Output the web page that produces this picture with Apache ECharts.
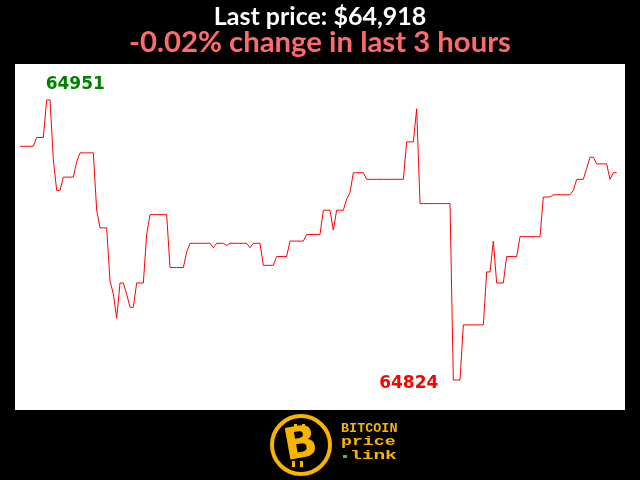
<!DOCTYPE html>
<html>
<head>
<meta charset="utf-8">
<script src="https://cdn.jsdelivr.net/npm/echarts@6/dist/echarts.min.js"></script>
<style>
html,body{margin:0;padding:0;background:#000;}
#chart{width:640px;height:480px;}
</style>
</head>
<body>
<div id="chart"></div>
<script>
// Minute-by-minute BTC price over the last 3 hours (180 minutes)
var prices = [
  64930, 64930, 64930, 64930, 64930, 64934, 64934, 64934, 64951, 64951,
  64924, 64910, 64910, 64916, 64916, 64916, 64916, 64923, 64927, 64927,
  64927, 64927, 64927, 64901, 64893, 64893, 64893, 64869, 64863, 64852,
  64868, 64868, 64863, 64857, 64857, 64868, 64868, 64868, 64890, 64899,
  64899, 64899, 64899, 64899, 64899, 64875, 64875, 64875, 64875, 64875,
  64882, 64886, 64886, 64886, 64886, 64886, 64886, 64886, 64884, 64886,
  64886, 64886, 64885, 64886, 64886, 64886, 64886, 64886, 64886, 64884,
  64886, 64886, 64886, 64876, 64876, 64876, 64876, 64880, 64880, 64880,
  64880, 64887, 64887, 64887, 64887, 64887, 64890, 64890, 64890, 64890,
  64890, 64901, 64901, 64901, 64892, 64901, 64901, 64901, 64906, 64909,
  64918, 64918, 64918, 64918, 64915, 64915, 64915, 64915, 64915, 64915,
  64915, 64915, 64915, 64915, 64915, 64915, 64932, 64932, 64932, 64947,
  64904, 64904, 64904, 64904, 64904, 64904, 64904, 64904, 64904, 64904,
  64824, 64824, 64824, 64849, 64849, 64849, 64849, 64849, 64849, 64849,
  64873, 64873, 64887, 64868, 64868, 64868, 64880, 64880, 64880, 64880,
  64889, 64889, 64889, 64889, 64889, 64889, 64889, 64907, 64907, 64907,
  64908, 64908, 64908, 64908, 64908, 64908, 64910, 64915, 64915, 64915,
  64920, 64925, 64925, 64922, 64922, 64922, 64922, 64915, 64918, 64918
];
var titleText = 'Last price: $64,918';
var subtitleText = '-0.02% change in last 3 hours';
var logoLines = ['BITCOIN', 'price', 'link'];

var seriesData = prices.map(function (p, i) { return [i, p]; });

var chart = echarts.init(document.getElementById('chart'), null, {renderer: 'canvas'});
var gold = '#f7b500';
chart.setOption({
  backgroundColor: '#000000',
  animation: false,
  title: [
    {text: titleText, left: 'center', top: -1,
     textStyle: {color: '#ffffff', fontFamily: 'Lato', fontWeight: 'bold', fontSize: 25}},
    {text: subtitleText, left: 'center', top: 23,
     textStyle: {color: '#ff6b6b', fontFamily: 'Lato', fontWeight: 'bold', fontSize: 29.3}}
  ],
  grid: {left: 15, top: 64, width: 610, height: 346, show: true, backgroundColor: '#ffffff', borderWidth: 0},
  xAxis: {type: 'value', min: -1.5, max: 181.5, show: false},
  yAxis: {type: 'value', min: 64810.4, max: 64967.3, show: false},
  series: [{
    type: 'line',
    data: seriesData,
    showSymbol: false,
    symbol: 'none',
    lineStyle: {color: '#ff0000', width: 1},
    markPoint: {
      symbol: 'circle',
      symbolSize: 0,
      data: [
        {type: 'max', label: {show: true, position: 'inside', align: 'left', verticalAlign: 'middle',
          offset: [-1, -15], color: '#008000', fontFamily: 'DejaVu Sans', fontWeight: 'bold', fontSize: 17,
          formatter: function (p) { return String(p.value); }}},
        {type: 'min', label: {show: true, position: 'inside', align: 'right', verticalAlign: 'middle',
          offset: [-15, 4], color: '#ff0000', fontFamily: 'DejaVu Sans', fontWeight: 'bold', fontSize: 17,
          formatter: function (p) { return String(p.value); }}}
      ]
    }
  }],
  graphic: [
    {type: 'circle', shape: {cx: 301, cy: 445, r: 29}, style: {fill: '#000', stroke: gold, lineWidth: 4}},
    {type: 'rect', shape: {x: 294, y: 424, width: 3, height: 6}, rotation: 0, style: {fill: gold}},
    {type: 'rect', shape: {x: 302, y: 424, width: 3, height: 6}, style: {fill: gold}},
    {type: 'rect', shape: {x: 292, y: 461, width: 3, height: 6}, style: {fill: gold}},
    {type: 'rect', shape: {x: 300, y: 461, width: 3, height: 6}, style: {fill: gold}},
    {type: 'text', x: 301, y: 446, rotation: 0.18,
     style: {text: 'B', fill: gold, font: 'bold 44px "DejaVu Sans"', align: 'center', verticalAlign: 'middle'}},
    {type: 'text', x: 341, y: 429, scaleX: 1.12,
     style: {text: logoLines[0], fill: gold, font: 'bold 12px "Liberation Mono"', verticalAlign: 'middle'}},
    {type: 'text', x: 341, y: 442, scaleX: 1.4,
     style: {text: logoLines[1], fill: gold, font: 'bold 13px "Liberation Mono"', verticalAlign: 'middle'}},
    {type: 'rect', shape: {x: 343, y: 455, width: 4, height: 3}, style: {fill: '#2ecc40'}},
    {type: 'text', x: 350, y: 456, scaleX: 1.5,
     style: {text: logoLines[2], fill: gold, font: 'bold 13px "Liberation Mono"', verticalAlign: 'middle'}}
  ]
});
</script>
</body>
</html>
